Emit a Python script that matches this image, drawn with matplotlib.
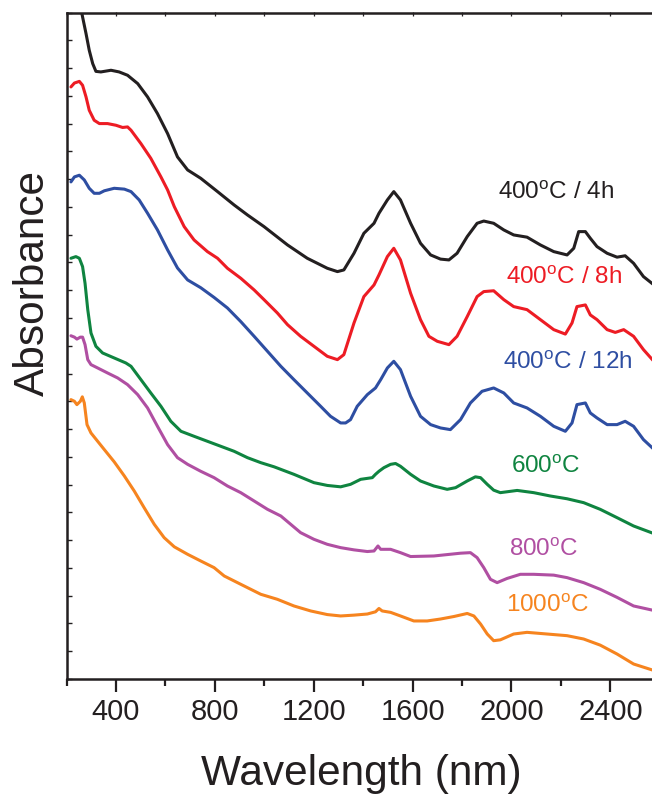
import matplotlib
matplotlib.use('Agg')
import matplotlib.pyplot as plt
from matplotlib.ticker import MultipleLocator

plt.rcParams['font.family'] = ['Liberation Sans', 'DejaVu Sans']
plt.rcParams['mathtext.fontset'] = 'custom'
plt.rcParams['mathtext.rm'] = 'Liberation Sans'

# absorption spectra, offset vertically (arbitrary units)
wl_4h = [250, 259, 279, 292, 306, 319, 339, 380, 413, 447, 488, 528, 568, 609, 649, 690, 743, 811, 878, 932,
         999, 1094, 1174, 1255, 1296, 1322, 1363, 1403, 1444, 1464, 1498, 1524, 1551, 1592, 1632, 1673, 1713,
         1747, 1780, 1821, 1861, 1888, 1928, 1969, 2009, 2063, 2117, 2171, 2225, 2252, 2272, 2299, 2319, 2346,
         2387, 2427, 2460, 2494, 2534, 2575]
ab_4h = [25.6, 24.1, 23.24, 22.64, 22.16, 21.88, 21.86, 21.92, 21.86, 21.74, 21.44, 20.96, 20.36, 19.64, 18.80,
         18.33, 18.03, 17.55, 17.07, 16.71, 16.29, 15.63, 15.15, 14.79, 14.67, 14.73, 15.33, 16.05, 16.41, 16.77,
         17.25, 17.55, 17.25, 16.41, 15.69, 15.27, 15.12, 15.09, 15.33, 15.93, 16.41, 16.49, 16.41, 16.17, 15.99,
         15.91, 15.63, 15.39, 15.27, 15.51, 16.11, 16.11, 15.87, 15.57, 15.33, 15.19, 15.24, 14.97, 14.49, 14.20]

wl_8h = [218, 232, 252, 265, 279, 292, 312, 333, 366, 400, 427, 447, 461, 501, 541, 582, 609, 636, 676, 716,
         770, 811, 851, 905, 959, 999, 1053, 1094, 1147, 1201, 1255, 1296, 1322, 1363, 1403, 1444, 1464, 1498,
         1524, 1551, 1592, 1632, 1666, 1700, 1747, 1780, 1821, 1861, 1888, 1928, 1969, 2009, 2063, 2117, 2171,
         2218, 2245, 2265, 2299, 2319, 2346, 2387, 2420, 2454, 2494, 2534, 2575]
ab_8h = [21.32, 21.46, 21.52, 21.38, 20.96, 20.48, 20.12, 20.00, 20.00, 19.94, 19.86, 19.88, 19.76, 19.28, 18.75,
         18.08, 17.61, 17.01, 16.29, 15.81, 15.39, 15.15, 14.79, 14.43, 14.01, 13.66, 13.18, 12.76, 12.34, 11.98,
         11.62, 11.50, 11.68, 12.82, 13.77, 14.19, 14.55, 15.21, 15.51, 15.09, 13.89, 12.94, 12.34, 12.16, 12.04,
         12.34, 13.05, 13.77, 13.95, 13.98, 13.66, 13.41, 13.30, 12.94, 12.58, 12.42, 12.82, 13.41, 13.47, 13.11,
         12.94, 12.58, 12.48, 12.58, 12.34, 11.86, 11.45]

wl_12h = [218, 232, 252, 272, 292, 312, 333, 353, 393, 434, 461, 494, 528, 568, 609, 649, 690, 743, 797, 851,
          905, 959, 1013, 1067, 1120, 1174, 1228, 1268, 1309, 1329, 1349, 1376, 1417, 1450, 1471, 1498, 1524,
          1551, 1592, 1632, 1673, 1713, 1753, 1794, 1834, 1881, 1928, 1969, 2009, 2063, 2117, 2171, 2218, 2245,
          2265, 2299, 2319, 2346, 2387, 2427, 2460, 2494, 2534, 2575]
ab_12h = [17.90, 18.08, 18.14, 17.97, 17.67, 17.49, 17.49, 17.58, 17.67, 17.64, 17.55, 17.25, 16.77, 16.17, 15.45,
          14.80, 14.37, 14.09, 13.74, 13.36, 12.87, 12.34, 11.80, 11.26, 10.78, 10.30, 9.82, 9.46, 9.22, 9.22,
          9.34, 9.82, 10.24, 10.48, 10.78, 11.20, 11.44, 11.14, 10.18, 9.46, 9.16, 9.04, 8.98, 9.34, 9.94, 10.36,
          10.48, 10.30, 9.94, 9.76, 9.46, 9.10, 8.92, 9.22, 9.88, 9.94, 9.58, 9.40, 9.16, 9.16, 9.28, 9.10, 8.62,
          8.28]

wl_600 = [218, 238, 252, 265, 275, 286, 299, 319, 346, 393, 440, 461, 501, 541, 582, 622, 663, 716, 770, 824,
          878, 932, 986, 1040, 1120, 1201, 1255, 1309, 1349, 1390, 1437, 1450, 1464, 1484, 1511, 1531, 1551, 1592,
          1632, 1686, 1740, 1774, 1821, 1854, 1875, 1902, 1928, 1955, 2023, 2090, 2157, 2225, 2292, 2359, 2427,
          2494, 2575]
ab_600 = [15.15, 15.21, 15.15, 14.85, 14.25, 13.30, 12.46, 11.98, 11.74, 11.56, 11.38, 11.26, 10.78, 10.30, 9.82,
          9.28, 8.92, 8.74, 8.56, 8.38, 8.20, 7.97, 7.79, 7.64, 7.37, 7.07, 6.97, 6.92, 7.01, 7.19, 7.25, 7.37,
          7.48, 7.61, 7.73, 7.76, 7.66, 7.37, 7.13, 6.95, 6.83, 6.89, 7.13, 7.28, 7.25, 7.01, 6.80, 6.71, 6.79,
          6.71, 6.59, 6.49, 6.35, 6.11, 5.81, 5.51, 5.24]

wl_800 = [218, 232, 242, 256, 265, 275, 286, 299, 326, 366, 407, 447, 488, 528, 568, 609, 649, 690, 743, 797,
          851, 905, 959, 1013, 1067, 1147, 1201, 1255, 1309, 1363, 1417, 1444, 1460, 1471, 1511, 1551, 1592, 1686,
          1794, 1834, 1861, 1888, 1915, 1942, 1982, 2036, 2090, 2171, 2225, 2292, 2359, 2427, 2494, 2575]
ab_800 = [12.36, 12.31, 12.24, 12.31, 12.31, 12.04, 11.50, 11.32, 11.20, 11.02, 10.84, 10.60, 10.24, 9.76, 9.10,
          8.44, 7.97, 7.73, 7.48, 7.25, 6.95, 6.71, 6.41, 6.11, 5.87, 5.27, 5.03, 4.85, 4.73, 4.65, 4.59, 4.61,
          4.79, 4.67, 4.67, 4.55, 4.41, 4.43, 4.53, 4.55, 4.37, 4.01, 3.59, 3.47, 3.62, 3.77, 3.77, 3.74, 3.65,
          3.47, 3.23, 2.94, 2.63, 2.47]

wl_1000 = [218, 232, 242, 256, 264, 272, 283, 299, 326, 353, 393, 434, 474, 514, 555, 595, 636, 690, 743, 797,
           838, 905, 986, 1053, 1120, 1188, 1255, 1309, 1363, 1417, 1450, 1464, 1477, 1511, 1551, 1605, 1659, 1713,
           1767, 1821, 1848, 1875, 1902, 1928, 1955, 2009, 2063, 2144, 2225, 2292, 2359, 2427, 2494, 2575]
ab_1000 = [10.06, 10.00, 9.88, 10.00, 10.16, 9.94, 9.16, 8.86, 8.56, 8.26, 7.82, 7.31, 6.77, 6.17, 5.57, 5.09,
           4.76, 4.49, 4.25, 4.01, 3.71, 3.41, 3.05, 2.87, 2.63, 2.45, 2.32, 2.27, 2.30, 2.34, 2.42, 2.54, 2.45,
           2.40, 2.27, 2.09, 2.09, 2.16, 2.25, 2.36, 2.27, 1.98, 1.62, 1.38, 1.41, 1.62, 1.68, 1.62, 1.56, 1.44,
           1.22, 0.90, 0.54, 0.31]

labels = ['400$^{\\mathregular{o}}$C / 4h', '400$^{\\mathregular{o}}$C / 8h', '400$^{\\mathregular{o}}$C / 12h',
          '600$^{\\mathregular{o}}$C', '800$^{\\mathregular{o}}$C', '1000$^{\\mathregular{o}}$C']
label_x = [2182, 2214, 2228, 2140, 2130, 2147]
label_y = [17.53, 14.46, 11.38, 7.66, 4.67, 2.63]
colors = ['#231f20', '#ed1c24', '#2e4ea2', '#0f8440', '#b04fa2', '#f6841f']

spectra = [(wl_4h, ab_4h), (wl_8h, ab_8h), (wl_12h, ab_12h),
           (wl_600, ab_600), (wl_800, ab_800), (wl_1000, ab_1000)]

fig = plt.figure(figsize=(6.52, 7.94), dpi=100)
ax = fig.add_axes([66.5 / 652, 115 / 794, 618 / 652, 666.5 / 794])

for (wl, ab), c in zip(spectra, colors):
    ax.plot(wl, ab, color=c, lw=2.2, solid_joinstyle='round', solid_capstyle='round')

for t, x, y, c in zip(labels, label_x, label_y, colors):
    ax.text(x, y, t, color=c, fontsize=17.5, ha='center', va='center')

ax.set_xlim(200, 2700)
ax.set_ylim(0, 24)

dark = '#231f20'
for s in ax.spines.values():
    s.set_linewidth(1.8)
    s.set_color(dark)

ax.xaxis.set_major_locator(MultipleLocator(400))
ax.xaxis.set_minor_locator(MultipleLocator(200))
ax.tick_params(axis='x', which='major', direction='out', length=9, width=1.6, color=dark,
               labelsize=21, labelcolor=dark, pad=5, top=False)
ax.tick_params(axis='x', which='minor', direction='out', length=5, width=1.6, color=dark, top=False)
ax.set_xticks([400, 800, 1200, 1600, 2000, 2400])

# inward ticks along the top edge every 200 nm
sec = ax.secondary_xaxis('top')
sec.set_xticks(range(200, 2800, 200))
sec.tick_params(direction='in', length=3, width=0.9, color=dark, labeltop=False)
sec.spines['top'].set_visible(False)

ax.yaxis.set_major_locator(MultipleLocator(1))
ax.tick_params(axis='y', direction='in', length=3.5, width=1.0, color=dark, labelleft=False)

fig.text(361.5 / 652, 9 / 794, 'Wavelength (nm)', fontsize=30.5, color=dark, ha='center', va='baseline')
fig.text(33 / 652, 1 - 283 / 794, 'Absorbance', fontsize=30.5, color=dark, rotation=90, ha='center', va='center')

fig.savefig('out.png', dpi=100)
